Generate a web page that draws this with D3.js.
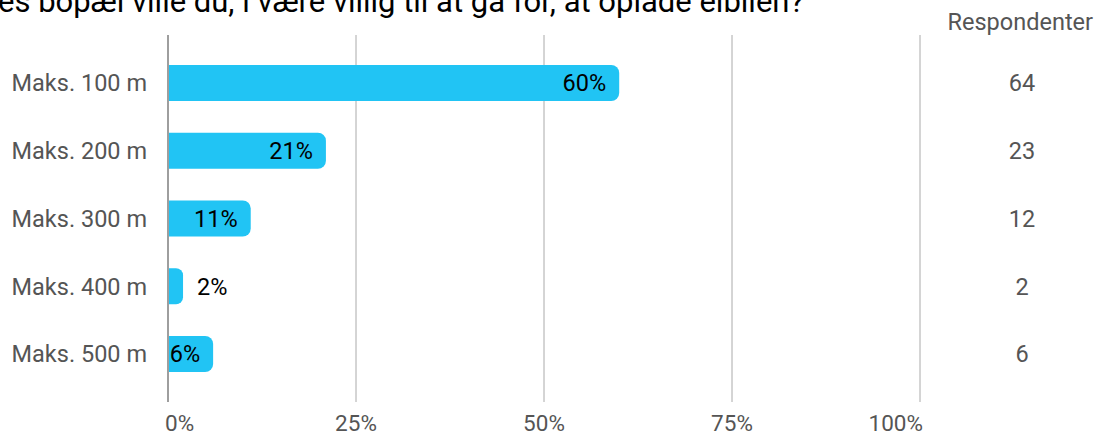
<!DOCTYPE html>
<html>
<head>
<meta charset="utf-8">
<script src="https://cdn.jsdelivr.net/npm/d3@7"></script>
<style>
  body { margin: 0; background: #fff; }
  svg { display: block; font-family: Roboto, sans-serif; }
</style>
</head>
<body>
<div id="chart"></div>
<script>
var titleText = 'es bopæl ville du, i være villig til at gå for, at oplade elbilen?';
var categories = ['Maks. 100 m', 'Maks. 200 m', 'Maks. 300 m', 'Maks. 400 m', 'Maks. 500 m'];
var percents = [60, 21, 11, 2, 6];
var respondents = [64, 23, 12, 2, 6];
var ticks = [0, 25, 50, 75, 100];

var width = 1098, height = 437;

var x = d3.scaleLinear().domain([0, 100]).range([168, 920]);
var y = d3.scalePoint().domain(categories).range([83, 354]);
var barH = 36;

var svg = d3.select('#chart').append('svg')
    .attr('width', width)
    .attr('height', height);

// title (cut off at top in the original)
svg.append('text')
    .attr('x', -2)
    .attr('y', 12)
    .attr('font-size', 31)
    .attr('fill', '#000')
    .text(titleText);

// gridlines
svg.append('g').selectAll('line')
    .data(ticks)
    .enter().append('line')
        .attr('x1', function (d) { return x(d); })
        .attr('x2', function (d) { return x(d); })
        .attr('y1', 35)
        .attr('y2', 402)
        .attr('stroke', function (d) { return d === 0 ? '#9e9e9e' : '#aaa'; })
        .attr('stroke-width', function (d) { return d === 0 ? 2 : 1; });

// tick labels
svg.append('g').selectAll('text')
    .data(ticks)
    .enter().append('text')
        .attr('x', function (d) { return x(d); })
        .attr('y', 431)
        .attr('font-size', 22.5)
        .attr('fill', '#555')
        .attr('text-anchor', function (d, i) {
            return i === 0 ? 'start' : (i === ticks.length - 1 ? 'end' : 'middle');
        })
        .attr('dx', function (d, i) { return i === 0 ? -3 : (i === ticks.length - 1 ? 3 : 0); })
        .text(function (d) { return d + '%'; });

// bars with rounded right end
function barPath(x0, x1, yc, h, r) {
    var w = x1 - x0, t = yc - h / 2;
    r = Math.min(r, w / 2, h / 2);
    return 'M' + x0 + ',' + t +
        'H' + (x1 - r) +
        'A' + r + ',' + r + ' 0 0 1 ' + x1 + ',' + (t + r) +
        'V' + (t + h - r) +
        'A' + r + ',' + r + ' 0 0 1 ' + (x1 - r) + ',' + (t + h) +
        'H' + x0 + 'Z';
}

svg.append('g').selectAll('path')
    .data(percents)
    .enter().append('path')
        .attr('d', function (d, i) { return barPath(x(0) + 1, x(d), y(categories[i]), barH, 8); })
        .attr('fill', '#21c4f4');

// value labels
var vals = svg.append('g').selectAll('text')
    .data(percents)
    .enter().append('text')
        .attr('y', function (d, i) { return y(categories[i]); })
        .attr('dy', '0.36em')
        .attr('font-size', 23.5)
        .attr('fill', '#000')
        .text(function (d) { return d + '%'; });

vals.each(function (d) {
    var el = d3.select(this),
        w = this.getComputedTextLength(),
        end = x(d);
    if (end - x(0) > w + 8) {
        el.attr('x', end - 13).attr('text-anchor', 'end');
    } else {
        el.attr('x', end + 14).attr('text-anchor', 'start');
    }
});

// category labels
svg.append('g').selectAll('text')
    .data(categories)
    .enter().append('text')
        .attr('x', 147)
        .attr('y', function (d) { return y(d); })
        .attr('dy', '0.36em')
        .attr('text-anchor', 'end')
        .attr('font-size', 23.5)
        .attr('fill', '#555')
        .text(function (d) { return d; });

// respondents column
svg.append('text')
    .attr('x', 1093)
    .attr('y', 30)
    .attr('text-anchor', 'end')
    .attr('font-size', 23.5)
    .attr('fill', '#555')
    .text('Respondenter');

svg.append('g').selectAll('text')
    .data(respondents)
    .enter().append('text')
        .attr('x', 1022)
        .attr('y', function (d, i) { return y(categories[i]); })
        .attr('dy', '0.36em')
        .attr('text-anchor', 'middle')
        .attr('font-size', 23.5)
        .attr('fill', '#555')
        .text(function (d) { return d; });
</script>
</body>
</html>
